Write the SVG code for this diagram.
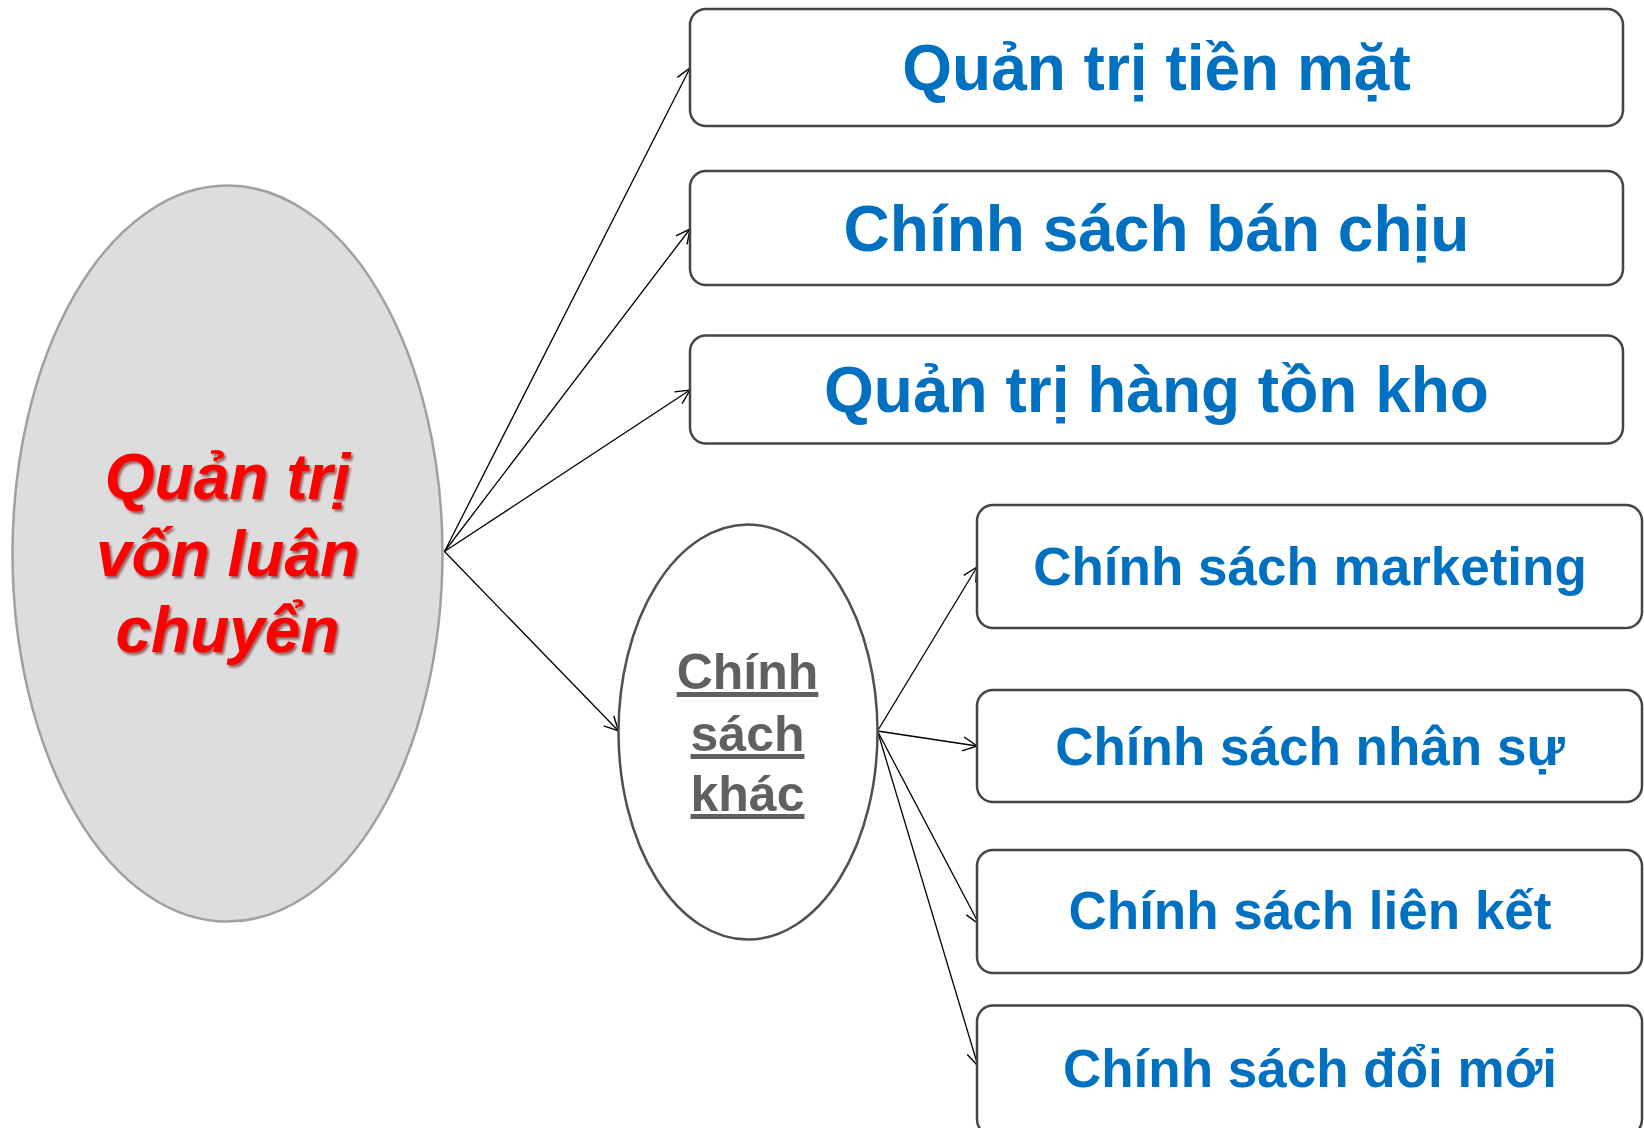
<svg xmlns="http://www.w3.org/2000/svg" width="1644" height="1128" viewBox="0 0 1644 1128">
<style>
.box{fill:#FFFFFF;stroke:#454545;stroke-width:2.5}
.bt{font-family:"Liberation Sans",Arial,sans-serif;font-weight:bold;fill:#0070C0;text-anchor:middle}
.main{font-family:"Liberation Sans",Arial,sans-serif;font-weight:bold;font-style:italic;fill:#FF0000;font-size:64px;text-anchor:middle}
.sub{font-family:"Liberation Sans",Arial,sans-serif;font-weight:bold;fill:#606060;font-size:50px;text-anchor:middle;text-decoration:underline}
.con{stroke:#000000;stroke-width:1.3;fill:none;marker-end:url(#arr)}
</style>
<defs>
<marker id="arr" markerUnits="userSpaceOnUse" markerWidth="18" markerHeight="18" refX="16" refY="8" orient="auto">
<path d="M2,1 L16,8 L2,15" fill="none" stroke="#000000" stroke-width="1.4"/>
</marker>
<filter id="sh" x="-10%" y="-10%" width="120%" height="130%">
<feDropShadow dx="2" dy="2.5" stdDeviation="1" flood-color="#600000" flood-opacity="0.55"/>
</filter>
</defs>
<rect width="1644" height="1128" fill="#FFFFFF"/>
<g id="connectors">
<line class="con" x1="444.5" y1="551.5" x2="690" y2="68"/>
<line class="con" x1="444.5" y1="551.5" x2="690" y2="229"/>
<line class="con" x1="444.5" y1="551.5" x2="690" y2="390"/>
<line class="con" x1="444.5" y1="551.5" x2="618.5" y2="731"/>
<line class="con" x1="877.5" y1="731" x2="977" y2="567"/>
<line class="con" x1="877.5" y1="731" x2="977" y2="746"/>
<line class="con" x1="877.5" y1="731" x2="979" y2="924"/>
<line class="con" x1="877.5" y1="731" x2="978" y2="1066"/>
</g>
<g id="main">
<ellipse cx="227.5" cy="553.6" rx="215" ry="368" fill="#DDDDDD" stroke="#A0A0A0" stroke-width="2.5"/>
<g filter="url(#sh)">
<text class="main" x="227.5" y="499">Quản trị</text>
<text class="main" x="227.5" y="576">vốn luân</text>
<text class="main" x="227.5" y="652">chuyển</text>
</g>
</g>
<g id="box1">
<rect class="box" x="690" y="9" width="933" height="117" rx="16"/>
<text class="bt" x="1156.5" y="90" font-size="64">Quản trị tiền mặt</text>
</g>
<g id="box2">
<rect class="box" x="690" y="171" width="933" height="114" rx="16"/>
<text class="bt" x="1156.5" y="251" font-size="64">Chính sách bán chịu</text>
</g>
<g id="box3">
<rect class="box" x="690" y="335.5" width="933" height="108" rx="16"/>
<text class="bt" x="1156.5" y="412" font-size="64">Quản trị hàng tồn kho</text>
</g>
<g id="other">
<ellipse cx="748" cy="732" rx="129.5" ry="207.5" fill="#FFFFFF" stroke="#505050" stroke-width="2.5"/>
<text class="sub" x="747.5" y="689">Chính</text>
<text class="sub" x="747.5" y="751">sách</text>
<text class="sub" x="747.5" y="811">khác</text>
</g>
<g id="box4">
<rect class="box" x="977" y="505" width="665" height="123" rx="16"/>
<text class="bt" x="1310" y="585" font-size="53">Chính sách marketing</text>
</g>
<g id="box5">
<rect class="box" x="977" y="690" width="665" height="112" rx="16"/>
<text class="bt" x="1310" y="765" font-size="53">Chính sách nhân sự</text>
</g>
<g id="box6">
<rect class="box" x="977" y="850" width="665" height="123" rx="16"/>
<text class="bt" x="1310" y="929" font-size="53">Chính sách liên kết</text>
</g>
<g id="box7">
<rect class="box" x="977" y="1005.5" width="665" height="130" rx="16"/>
<text class="bt" x="1310" y="1087" font-size="53">Chính sách đổi mới</text>
</g>
</svg>
